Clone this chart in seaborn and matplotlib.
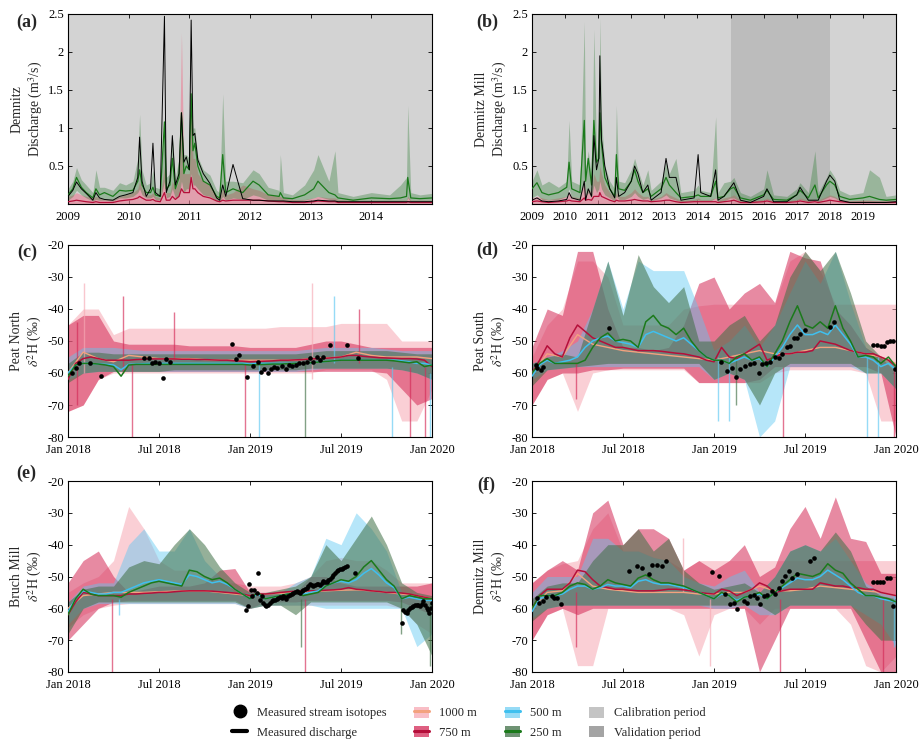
import numpy as np
import matplotlib
matplotlib.use("Agg")
import matplotlib.pyplot as plt
import seaborn as sns
from matplotlib.lines import Line2D
from matplotlib.patches import Patch

# ---------------------------------------------------------------- data ----
RES = ["1000", "750", "500", "250"]
RES_LABELS = ["1000 m", "750 m", "500 m", "250 m"]

# discharge panels (decimal years)
A_T = [2009.00, 2009.08, 2009.14, 2009.22, 2009.30, 2009.41, 2009.46, 2009.52, 2009.60, 2009.74, 2009.85, 2009.95,
       2010.07, 2010.15, 2010.18, 2010.22, 2010.29, 2010.36, 2010.40, 2010.44, 2010.52, 2010.59, 2010.62, 2010.68,
       2010.72, 2010.77, 2010.83, 2010.87, 2010.91, 2010.95, 2011.00, 2011.03, 2011.06, 2011.09, 2011.14, 2011.23,
       2011.34, 2011.45, 2011.50, 2011.55, 2011.60, 2011.72, 2011.88, 2012.05, 2012.15, 2012.30, 2012.48, 2012.50,
       2012.55, 2012.70, 2012.90, 2013.05, 2013.12, 2013.30, 2013.40, 2013.45, 2013.70, 2014.00, 2014.30, 2014.48,
       2014.58, 2014.60, 2014.65, 2014.80, 2015.00]
A_OBS = [.10, .18, .29, .20, .14, .05, .15, .08, .06, .05, .10, .12,
         .15, .35, .88, .30, .10, .20, .80, .15, .10, 2.47, .15, .30,
         .90, .25, .40, 1.20, .55, .62, .45, 2.42, .90, .93, .58, .40,
         .27, .08, .05, .25, .10, .52, .07, .05, .05, .04, .04, .04,
         .04, .03, .03, .04, .05, .04, .04, .03, .03, .03, .03, .03,
         .03, .03, .03, .03, .03]
A_Q250 = [.12, .20, .35, .22, .15, .08, .20, .12, .15, .10, .18, .17,
          .18, .30, .45, .25, .15, .15, .22, .12, .10, 1.08, .20, .25,
          .60, .20, .35, 1.20, .40, .50, .45, 1.45, .70, .80, .50, .30,
          .25, .10, .08, .65, .15, .20, .15, .30, .25, .12, .10, .15,
          .08, .07, .12, .20, .30, .15, .12, .08, .05, .08, .07, .08,
          .10, .35, .08, .07, .08]
A_Q250_HI = [.20, .30, .48, .32, .25, .15, .45, .22, .22, .18, .28, .25,
             .30, .60, 1.18, .45, .25, .28, .45, .22, .20, 1.15, .35, .40,
             .90, .35, .60, 1.25, .65, .65, .60, 1.50, 1.00, 1.00, .62, .45,
             .38, .18, .15, 1.45, .30, .30, .28, .45, .40, .22, .18, .65,
             .15, .12, .25, .45, .65, .30, .70, .15, .10, .15, .12, .25,
             .35, 1.30, .15, .12, .14]
A_Q250_LO = [.05, .10, .18, .12, .08, .04, .06, .05, .05, .04, .08, .08,
             .10, .15, .20, .12, .08, .08, .10, .06, .05, .30, .08, .10,
             .20, .08, .10, .30, .15, .20, .20, .40, .25, .25, .20, .12,
             .10, .04, .03, .10, .05, .08, .06, .12, .10, .05, .04, .05,
             .03, .03, .05, .08, .10, .06, .05, .03, .02, .03, .03, .03,
             .04, .08, .03, .03, .03]
A_Q750 = [.03, .04, .05, .04, .03, .02, .03, .02, .02, .02, .04, .05,
          .06, .08, .10, .08, .05, .05, .06, .04, .03, .15, .05, .05,
          .10, .06, .10, .20, .15, .15, .15, .35, .20, .20, .15, .10,
          .08, .04, .03, .05, .04, .05, .05, .05, .05, .04, .03, .03,
          .03, .02, .02, .03, .04, .03, .03, .02, .02, .02, .02, .02,
          .02, .03, .02, .02, .02]
A_Q750_HI = [.10, .12, .15, .12, .10, .08, .10, .08, .06, .06, .10, .12,
             .15, .20, .30, .20, .12, .12, .15, .10, .08, .50, .15, .15,
             .30, .20, .30, 2.25, .40, .40, .40, 1.45, .60, .60, .40, .30,
             .25, .10, .08, .20, .12, .15, .25, .20, .18, .12, .10, .10,
             .08, .06, .06, .08, .10, .08, .08, .06, .05, .05, .05, .05,
             .05, .10, .05, .05, .05]

B_T = [2009.00, 2009.15, 2009.30, 2009.50, 2009.80, 2010.05, 2010.12, 2010.20, 2010.45, 2010.58,
       2010.62, 2010.70, 2010.80, 2010.87, 2010.95, 2011.02, 2011.05, 2011.10, 2011.20, 2011.35,
       2011.50, 2011.55, 2011.62, 2011.80, 2012.00, 2012.10, 2012.20, 2012.35, 2012.50, 2012.60,
       2012.90, 2013.05, 2013.15, 2013.35, 2013.50, 2013.90, 2014.02, 2014.10, 2014.40, 2014.55,
       2014.62, 2014.80, 2015.00, 2015.10, 2015.30, 2015.60, 2016.00, 2016.10, 2016.30, 2016.70,
       2017.00, 2017.10, 2017.35, 2017.55, 2017.65, 2017.90, 2018.00, 2018.15, 2018.30, 2018.60,
       2019.00, 2019.20, 2019.50, 2019.70, 2020.00]
B_OBS = [.05, .08, .04, .03, .04, .06, .15, .08, .05, .30,
         .05, .20, .10, .90, .45, .60, 1.95, .85, .50, .20,
         .08, .35, .10, .15, .30, .50, .40, .15, .25, .05,
         .15, .60, .35, .35, .05, .08, .65, .15, .10, .45,
         .05, .10, .22, .28, .05, .02, .10, .20, .03, .03,
         .12, .22, .05, .05, .05, .30, .38, .30, .05, .02,
         .02, .02, .02, .02, .03]
B_Q250 = [.20, .28, .15, .12, .15, .22, .55, .20, .15, 1.10,
          .30, .60, .25, 1.10, .55, .60, 1.20, .80, .35, .20,
          .10, .65, .20, .18, .30, .45, .30, .15, .20, .10,
          .20, .35, .25, .15, .08, .10, .12, .10, .10, .30,
          .08, .10, .20, .22, .08, .05, .12, .18, .06, .05,
          .12, .18, .08, .25, .08, .25, .30, .25, .10, .06,
          .08, .10, .06, .05, .06]
B_Q250_HI = [.30, .45, .25, .30, .22, .30, 1.10, .30, .25, 2.40,
             .45, .70, .35, 2.30, .65, .90, 2.45, 1.10, .50, .30,
             .20, 1.30, .30, .28, .45, .60, .45, .25, .45, .18,
             .30, .55, .40, .60, .15, .18, .25, .18, .15, 1.15,
             .15, .28, .30, .35, .15, .10, .20, .45, .12, .10,
             .20, .28, .15, .70, .15, .35, .45, .35, .18, .12,
             .15, .45, .35, .10, .12]
B_Q250_LO = [.08, .12, .06, .05, .06, .10, .20, .08, .06, .30,
             .10, .15, .08, .25, .15, .20, .30, .20, .12, .08,
             .04, .10, .06, .06, .10, .15, .10, .06, .08, .04,
             .08, .12, .08, .05, .03, .04, .05, .04, .04, .08,
             .03, .04, .08, .08, .03, .02, .05, .06, .02, .02,
             .05, .06, .03, .05, .03, .08, .10, .08, .04, .02,
             .03, .03, .02, .02, .02]
B_Q750 = [.03, .04, .03, .02, .03, .04, .05, .04, .03, .08,
          .05, .06, .05, .10, .10, .10, .15, .10, .08, .05,
          .03, .05, .04, .04, .05, .06, .05, .04, .04, .03,
          .04, .05, .05, .03, .02, .03, .03, .03, .03, .03,
          .02, .03, .04, .05, .02, .02, .03, .04, .02, .02,
          .03, .04, .02, .03, .02, .04, .05, .04, .03, .02,
          .02, .02, .02, .02, .02]
B_Q750_HI = [.08, .10, .08, .06, .08, .10, .15, .10, .08, .30,
             .12, .20, .15, .40, .30, .30, .50, .40, .25, .15,
             .08, .15, .10, .10, .15, .20, .15, .10, .10, .06,
             .10, .15, .12, .08, .05, .06, .08, .06, .06, .08,
             .05, .08, .10, .12, .05, .04, .06, .08, .04, .04,
             .06, .08, .05, .06, .05, .10, .12, .10, .06, .04,
             .05, .05, .04, .04, .04]

A_CAL = [(2009, 2015)]
A_VAL = []
B_CAL = [(2009, 2015), (2018, 2020)]
B_VAL = [(2015, 2018)]
A_YEARS = [2009, 2010, 2011, 2012, 2013, 2014]
B_YEARS = [2009, 2010, 2011, 2012, 2013, 2014, 2015, 2016, 2017, 2018, 2019]
Q_TICKS = [0.5, 1, 1.5, 2, 2.5]
Q_TICKLABELS = ["0.5", "1", "1.5", "2", "2.5"]

# isotope panels: semi-monthly line grid (49) and monthly band grid (25), Jan 2018 - Jan 2020
ISO_TICKS = [2018.0, 2018.5, 2019.0, 2019.5, 2020.0]
ISO_TICKLABELS = ["Jan 2018", "Jul 2018", "Jan 2019", "Jul 2019", "Jan 2020"]

# ---- (c) Peat North
C_L750 = [-62, -57, -55.5, -55, -55.5, -56, -56, -56, -56, -55.8, -55.7, -55.6,
          -55.6, -55.6, -55.6, -55.7, -55.7, -55.8, -55.8, -55.9, -56, -56, -56.2, -56.3,
          -56.5, -56.4, -56.3, -56.2, -56, -56, -55.9, -55.8, -55.6, -55.5, -55.4, -55.2,
          -55, -54.5, -54.5, -54.8, -55, -55.2, -55.3, -55.4, -55.5, -55.5, -55.6, -56, -58]
C_L500 = [-60, -57.5, -57, -57, -57.2, -57.3, -57.5, -59, -57.3, -57.2, -57.1, -57,
          -57, -57, -57, -57, -57, -57, -57, -57, -57, -57, -57, -57,
          -57.2, -57, -57, -57, -57, -57, -57, -57, -56.8, -56.6, -56.4, -56.2,
          -56, -56, -56, -56, -56, -56, -56, -56, -56.2, -56.5, -57, -57, -57.5]
C_L250 = [-61, -57.5, -57, -57, -57.2, -57.5, -58, -61, -57.5, -57.3, -57.3, -57.3,
          -57.3, -57.3, -57.3, -57.3, -57.3, -57.3, -57.3, -57.3, -57.3, -57.3, -57.3, -57.3,
          -57.5, -57.4, -57.3, -57.2, -57.2, -57.1, -57, -57, -56.8, -56.6, -56.4, -56.2,
          -56, -56, -56, -56, -56, -56, -56, -56.2, -56.5, -56.8, -56.5, -58, -57.5]
C_L1000 = [-60, -53.5, -55.5, -56.5, -54.5, -55, -55.5, -55.5, -55.5, -55.8, -56, -56, -56,
           -56, -56, -56, -55.5, -55.3, -55, -53.5, -54.5, -55, -55, -55, -55.5]
C_1000_HI = [-45, -40, -40, -48, -46, -46, -46, -46, -46, -46, -46, -46, -46, -46,
             -45.5, -45.5, -45.5, -45.5, -44.5, -44.5, -44.5, -44.5, -50, -50, -50]
C_1000_LO = [-72, -70, -62, -60, -60, -60, -60, -60, -60, -60, -60, -60, -60, -60, -60, -60, -60,
             -59, -59, -59, -59, -62, -75, -75, -65]
C_750_HI = [-45, -42, -42, -50, -51, -51, -51, -51, -51.5, -51.5, -51.5, -51.5, -52, -52, -52, -52,
            -51, -50, -50, -51, -52, -52, -52, -52, -52]
C_750_LO = [-72, -70, -62, -59.5, -59.5, -59.5, -59.5, -59.5, -59.5, -59.5, -59.5, -59.5, -59.5, -59.5,
            -59.5, -59.5, -59.5, -59.5, -59.5, -59.5, -59.5, -60, -65, -70, -68]
C_500_HI = [-55, -52, -52, -52, -52.5, -53, -53, -53, -53, -53, -53, -53, -53, -53, -53, -53,
            -52.5, -52, -52, -52, -52, -52.5, -53, -53, -53]
C_500_LO = [-62, -60, -59.5, -59.5, -59.5, -59.5, -59.5, -59.5, -59.5, -59.5, -59.5, -59.5, -59.5, -59.5,
            -59.5, -59.5, -59, -58.5, -58.5, -58.5, -58.5, -58.5, -59, -60, -62]
C_250_HI = [-57, -53.5, -53.5, -54, -54, -54, -54, -54, -54, -54, -54, -54, -54, -54, -54, -54,
            -53.5, -53, -53, -53, -53, -53, -53.5, -54, -54]
C_250_LO = [-63, -60, -59.5, -59.5, -59.5, -59.5, -59.5, -59, -59, -59, -59, -59, -59, -59, -59, -59,
            -58.5, -58.5, -58.5, -58.5, -58.5, -58.5, -59, -60, -62]
C_SPK_T = [2018.05, 2018.09, 2018.30, 2018.35, 2018.58, 2018.97, 2019.05, 2019.30, 2019.34, 2019.46,
           2019.60, 2019.78, 2019.88, 2019.96, 2019.99]
C_SPK_LO = [-70, -60, -60, -80, -56, -80, -80, -80, -62, -57, -57, -80, -80, -80, -80]
C_SPK_HI = [-44, -32, -36, -57, -41, -57, -57, -57, -32, -36, -40, -58, -58, -58, -60]
C_SPK_RES = ["750", "1000", "750", "750", "750", "750", "500", "250", "1000", "500", "750", "500", "750", "750", "500"]
C_DOT_T = [2018.02, 2018.044, 2018.06, 2018.12, 2018.18, 2018.42, 2018.445, 2018.46, 2018.48, 2018.50,
           2018.52, 2018.54, 2018.56, 2018.899, 2018.921, 2018.941, 2018.982, 2019.018, 2019.042, 2019.059,
           2019.079, 2019.097, 2019.114, 2019.134, 2019.15, 2019.178, 2019.196, 2019.214, 2019.233, 2019.253,
           2019.271, 2019.293, 2019.311, 2019.33, 2019.348, 2019.366, 2019.385, 2019.403, 2019.44, 2019.531,
           2019.595]
C_DOT_V = [-59.9, -58.5, -56.8, -57.0, -60.8, -55.4, -55.4, -56.8, -56.6, -57.0,
           -61.7, -55.6, -56.7, -50.9, -55.6, -54.5, -61.4, -57.8, -56.7, -59.7,
           -58.6, -60.0, -58.9, -58.2, -58.3, -57.8, -58.9, -57.5, -57.8, -57.5,
           -57.0, -57.0, -56.5, -55.4, -56.5, -55.1, -55.9, -54.9, -51.2, -51.2,
           -55.4]

# ---- (d) Peat South
D_L750 = [-60, -56, -51.5, -54, -55, -49, -45, -47, -49, -50, -51, -52,
          -52, -52.5, -53, -53, -53, -53.2, -53.5, -53.8, -54, -54.5, -55, -56,
          -56.5, -52, -55, -55.5, -54, -52.5, -51, -56, -55, -54, -54, -53.5,
          -53.5, -53, -50, -50.5, -51, -52, -53, -53.5, -54, -54, -55, -56, -58]
D_L500 = [-61, -57.5, -56, -57, -56.5, -56, -55, -52, -50, -49, -48.5, -50,
          -50.5, -51, -52, -48, -47, -48, -49, -50, -49, -51, -53, -55,
          -56, -56, -57, -56, -55, -56, -55.5, -58, -55, -52, -48, -45,
          -48, -48, -47, -48, -45, -48, -51, -55, -55, -56, -58, -57, -59]
D_L250 = [-60, -57, -55.5, -57, -57, -57, -57, -56, -52, -49, -47.5, -50,
          -49.5, -50, -52, -44, -42, -45, -46, -48, -46, -50, -53, -55,
          -56, -56, -57, -55, -54, -56, -55, -58, -54, -50, -44, -39,
          -45, -46, -44, -46, -39, -46, -50, -55, -54.5, -55, -57, -55, -58]
D_L1000 = [-60, -54, -55, -48, -51, -52, -53, -53.5, -54, -54.5, -55, -55.5, -56,
           -55, -54, -53, -54, -54, -53, -52, -52, -53, -54, -55, -57]
D_1000_HI = [-55, -45, -40, -25, -25, -30, -45, -45, -45, -45, -40, -39, -38.5,
             -38.5, -38.5, -38.5, -38.5, -25, -22, -28, -38.5, -38.5, -38.5, -38.5, -38.5]
D_1000_LO = [-70, -62, -60, -72, -60, -59, -59, -59, -59, -59, -59, -63, -63,
             -63, -63, -63, -60, -59, -59, -59, -59, -59, -60, -75, -75]
D_750_HI = [-52, -40, -42, -22, -22, -40, -52, -52, -53, -52, -45, -32, -30,
            -40, -35, -32, -38, -22, -24, -25, -40, -45, -52, -55, -60]
D_750_LO = [-70, -62, -60, -60, -59, -59, -58.5, -58.5, -58.5, -58.5, -58.5, -63, -63,
            -63, -63, -62, -58, -58, -58, -58, -58, -58, -58, -60, -80]
D_500_HI = [-57, -55, -53, -50, -40, -25, -40, -25, -28, -28, -28, -40, -53,
            -50, -45, -52, -45, -35, -25, -32, -22, -38, -52, -56, -58]
D_500_LO = [-62, -59, -58.5, -58, -58, -58, -58, -58, -58, -58, -58, -58, -62,
            -60, -62, -80, -75, -58, -58, -58, -58, -58, -60, -60, -65]
D_250_HI = [-57, -55, -54, -55, -40, -25, -42, -23, -33, -38, -33, -50, -50,
            -45, -42, -50, -45, -30, -22, -28, -22, -35, -50, -55, -57]
D_250_LO = [-64, -59, -58.5, -58, -57.5, -57, -57, -57, -57, -57, -57, -57, -62,
            -60, -62, -70, -60, -57, -57, -57, -57, -57, -60, -60, -65]
D_SPK_T = [2018.24, 2019.02, 2019.08, 2019.12, 2019.38, 2019.84, 2019.90, 2019.99]
D_SPK_LO = [-68, -75, -75, -70, -80, -80, -80, -80]
D_SPK_HI = [-57, -55, -55, -55, -58, -55, -55, -58]
D_SPK_RES = ["750", "500", "500", "250", "750", "500", "500", "750"]
D_DOT_T = [2018.02, 2018.03, 2018.05, 2018.06, 2018.424, 2019.041, 2019.072, 2019.10, 2019.12, 2019.145,
           2019.17, 2019.196, 2019.218, 2019.246, 2019.264, 2019.288, 2019.31, 2019.337, 2019.355, 2019.374,
           2019.40, 2019.419, 2019.437, 2019.456, 2019.474, 2019.50, 2019.638, 2019.657, 2019.876, 2019.894,
           2019.916, 2019.934, 2019.95, 2019.967, 2019.985, 2019.995]
D_DOT_V = [-57.5, -58.5, -59.0, -58.0, -46.0, -56.5, -59.4, -58.5, -61.1, -58.9,
           -57.8, -57.2, -57.0, -59.9, -57.2, -57.0, -56.5, -54.9, -55.4, -54.1,
           -52.0, -51.6, -49.0, -49.2, -47.8, -46.5, -45.5, -44.0, -51.2, -51.2,
           -51.5, -51.6, -50.2, -50.0, -50.0, -58.9]

# ---- (e) Bruch Mill
E_L750 = [-62, -58, -55, -55.5, -56, -56, -56, -56, -55.5, -55.5, -55.3, -55.2,
          -55, -55, -54.8, -54.6, -54.5, -54.5, -54.5, -54.6, -54.8, -55, -55.2, -55.5,
          -56, -55.5, -55.5, -55.3, -55, -54.8, -54.6, -54.5, -54.5, -54.5, -54.3, -54.2,
          -54, -53.5, -54, -54.2, -54.5, -54.7, -55, -55, -55.2, -55.5, -56, -56.5, -57]
E_L500 = [-61, -57, -54.5, -55, -55.5, -55.5, -55, -55, -54, -53, -52, -51.5,
          -51, -51.5, -52, -52.5, -49.5, -50, -51, -52, -51.5, -52.5, -54, -55.5,
          -57, -55.5, -57, -56.5, -56, -55.5, -55, -55.5, -55, -54.5, -53, -52,
          -51.5, -52, -51, -49, -47.5, -49.5, -52, -53.5, -57, -56.5, -57, -57.5, -57.5]
E_L250 = [-62, -57, -54, -55.5, -56, -56, -56, -56.5, -55, -54, -53, -52,
          -51.5, -52, -52.5, -53, -48, -48.5, -50, -51, -50.5, -52, -54, -55.5,
          -57, -55, -57, -56.5, -56, -55.5, -55, -56, -55.5, -55, -53, -52,
          -51, -51.5, -50, -47, -45, -48, -51, -53, -57, -56, -56.5, -57, -57]
E_L1000 = [-60, -56, -55.5, -55, -55, -55, -54.8, -54.6, -54.5, -54.5, -55, -55.5, -56,
           -55.5, -55.3, -55, -54.8, -54.5, -54.3, -54.2, -54.5, -55, -55.5, -56, -57]
E_1000_HI = [-55, -52, -50, -45, -28, -35, -45, -48, -48, -50, -52, -52, -53,
             -53, -53, -52, -50, -45, -44, -45, -45, -48, -52, -52, -52]
E_1000_LO = [-66, -62, -60, -59, -58.5, -58.5, -58.5, -58.5, -58.5, -58.5, -58.5, -58.5, -60,
             -59, -59, -59, -59, -59, -59, -59, -59, -59, -60, -65, -68]
E_750_HI = [-52, -45, -42, -50, -55, -54, -53, -53, -53, -52, -48, -47.5, -55,
            -55, -55, -55, -50, -50, -52, -53, -53, -53, -53, -53, -52]
E_750_LO = [-70, -65, -60, -58, -57.5, -57.5, -57.5, -57.5, -57.5, -57.5, -57.5, -57.5, -60,
            -58, -58, -58, -57.5, -57.5, -57.5, -57.5, -57.5, -57.5, -58, -60, -62]
E_500_HI = [-58, -53, -52, -52, -40, -35, -42, -42, -35, -45, -50, -55, -55,
            -55, -55, -52, -50, -38, -40, -30, -35, -42, -55, -57, -57]
E_500_LO = [-65, -60, -58.5, -58.5, -58.5, -58.5, -58.5, -58.5, -58.5, -58.5, -58.5, -58.5, -60,
            -59, -59, -59, -59, -60, -60, -60, -60, -60, -60, -72, -68]
E_250_HI = [-58, -54, -53, -53, -47, -45, -46, -40, -35, -40, -47, -52, -55,
            -55, -54, -53, -50, -40, -45, -38, -31, -40, -52, -55, -56]
E_250_LO = [-68, -60, -58, -58, -58, -58, -58, -58, -58, -58, -58, -58, -60,
            -59, -59, -62, -58, -58, -58, -58, -58, -58, -60, -65, -75]
E_SPK_T = [2018.24, 2018.28, 2019.28, 2019.30, 2019.83, 2019.99]
E_SPK_LO = [-80, -62, -72, -80, -68, -78]
E_SPK_HI = [-57, -57, -57, -57, -56, -58]
E_SPK_RES = ["750", "500", "250", "750", "250", "250"]
E_DOT_T = [2018.98, 2018.99, 2018.996, 2019.003, 2019.01, 2019.02, 2019.037, 2019.046, 2019.055, 2019.064,
           2019.073, 2019.082, 2019.09, 2019.10, 2019.11, 2019.12, 2019.128, 2019.137, 2019.147, 2019.156,
           2019.165, 2019.174, 2019.183, 2019.19, 2019.20, 2019.21, 2019.22, 2019.23, 2019.238, 2019.247,
           2019.256, 2019.265, 2019.275, 2019.284, 2019.293, 2019.302, 2019.311, 2019.32, 2019.33, 2019.34,
           2019.348, 2019.357, 2019.366, 2019.375, 2019.385, 2019.394, 2019.403, 2019.412, 2019.421, 2019.43,
           2019.44, 2019.45, 2019.458, 2019.467, 2019.476, 2019.485, 2019.494, 2019.503, 2019.513, 2019.522,
           2019.531, 2019.577,
           2019.833, 2019.842, 2019.851, 2019.861, 2019.87, 2019.879, 2019.888, 2019.897, 2019.906, 2019.916,
           2019.925, 2019.934, 2019.943, 2019.952, 2019.961, 2019.97, 2019.978, 2019.985, 2019.992, 2019.998]
E_DOT_V = [-60.4, -59.4, -52.5, -54.1, -56.2, -54.1, -55.2, -48.8, -57.3, -56.0,
           -58.3, -59.0, -59.4, -58.8, -58.3, -57.8, -57.3, -57.5, -57.0, -56.8,
           -56.4, -56.6, -56.0, -56.5, -57.0, -56.2, -55.7, -55.4, -55.2, -55.0,
           -54.6, -55.0, -55.2, -54.6, -54.1, -53.9, -53.6, -53.0, -52.5, -52.8,
           -53.1, -52.6, -52.2, -52.5, -52.8, -52.0, -51.5, -51.6, -51.8, -51.2,
           -50.9, -50.0, -49.4, -48.8, -48.3, -48.0, -47.8, -47.5, -47.3, -47.0,
           -46.7, -48.8,
           -64.6, -60.4, -61.0, -61.5, -60.5, -59.9, -59.6, -59.4, -59.0, -58.8,
           -59.0, -59.2, -58.5, -57.8, -59.0, -59.9, -60.5, -61.5, -60.0, -58.3]

# ---- (f) Demnitz Mill
F_L750 = [-60, -56, -54, -54, -54, -52, -48, -48.5, -51, -53, -53.5, -54,
          -54, -54.3, -54.5, -54.5, -54.5, -54.3, -54, -54, -54.2, -54.5, -55, -55.3,
          -55.5, -54, -54.5, -56, -55, -54, -52, -53, -55, -54.5, -54, -54,
          -54, -54, -52, -52.5, -53, -53, -53.5, -53.5, -54, -54, -55, -55.5, -56]
F_L500 = [-61, -57, -56, -56, -55.5, -54, -53, -53, -54, -53.5, -52.5, -53,
          -53, -53.5, -51.5, -51, -52, -52.5, -52.5, -53, -53.5, -54, -55, -56,
          -57, -55.5, -56, -57.5, -56.5, -56, -55.5, -57, -55, -53.5, -52, -50.5,
          -51, -51, -50, -48, -49.5, -51, -53, -55, -56, -56, -57, -57.5, -58]
F_L250 = [-60, -56, -56, -56, -55, -53, -52, -52.5, -54, -53, -51, -52,
          -52.5, -53, -50.5, -49.5, -51, -52, -52, -52.5, -53, -54, -55, -56,
          -57, -55, -56, -58, -56.5, -56, -55, -57, -55, -53, -51, -49,
          -49.5, -50, -49, -46, -48, -49, -52, -54, -56, -56, -56.5, -57, -58]
F_L1000 = [-60, -55, -54.5, -49, -53, -54, -54.5, -55, -55, -55, -55, -55.5, -55.5,
           -55, -55, -53, -54.5, -54.5, -54, -53, -53.5, -54, -54.5, -55, -56]
F_1000_HI = [-52, -48, -46, -45, -35, -30, -42, -42, -44, -45, -48, -45, -45,
             -45, -45, -45, -45, -45, -45, -45, -45, -45, -45, -45, -45]
F_1000_LO = [-70, -62, -60, -78, -78, -60, -60, -60, -60, -60, -62, -75, -62,
             -60, -60, -65, -60, -60, -60, -60, -60, -65, -78, -80, -75]
F_750_HI = [-52, -48, -45, -48, -30, -26, -40, -35, -35, -38, -48, -45, -48,
            -45, -40, -50, -47, -35, -28, -38, -25, -38, -39, -49, -49]
F_750_LO = [-70, -62, -60, -62, -60, -60, -60, -60, -60, -60, -60, -60, -60,
            -60, -60, -80, -70, -60, -60, -60, -60, -60, -70, -80, -80]
F_500_HI = [-55, -50, -50, -50, -38, -38, -42, -42, -44, -45, -50, -52, -53,
            -50, -48, -55, -50, -42, -40, -42, -38, -45, -52, -55, -56]
F_500_LO = [-63, -60, -59, -59, -59, -59, -59, -59, -59, -59, -59, -59, -60,
            -60, -59, -62, -62, -59, -59, -59, -59, -59, -62, -65, -72]
F_250_HI = [-57, -53, -52, -52, -45, -40, -40, -35, -42, -38, -48, -52, -54,
            -53, -52, -55, -50, -42, -40, -42, -36, -42, -53, -56, -57]
F_250_LO = [-64, -60, -59, -59, -59, -59, -59, -59, -59, -59, -59, -59, -59,
            -59, -59, -59, -62, -59, -59, -59, -59, -59, -65, -70, -70]
F_SPK_T = [2018.24, 2018.83, 2018.98, 2019.36, 2019.93, 2019.99]
F_SPK_LO = [-72, -55, -78, -80, -80, -72]
F_SPK_HI = [-55, -38, -57, -57, -57, -56]
F_SPK_RES = ["750", "1000", "1000", "750", "750", "500"]
F_DOT_T = [2018.027, 2018.04, 2018.058, 2018.077, 2018.108, 2018.122, 2018.14, 2018.159, 2018.533, 2018.579,
           2018.606, 2018.643, 2018.661, 2018.689, 2018.716, 2018.734, 2018.99, 2019.026, 2019.063, 2019.09,
           2019.109, 2019.127, 2019.163, 2019.18, 2019.20, 2019.218, 2019.237, 2019.255, 2019.273, 2019.29,
           2019.318, 2019.336, 2019.355, 2019.373, 2019.39, 2019.41, 2019.428, 2019.456, 2019.529, 2019.547,
           2019.876, 2019.894, 2019.912, 2019.93, 2019.95, 2019.967, 2019.985]
F_DOT_V = [-56.9, -58.4, -57.7, -56.3, -56.1, -56.6, -56.9, -58.7, -48.3, -46.7,
           -47.2, -49.3, -46.5, -46.5, -46.7, -45.1, -48.6, -49.8, -55.6, -58.5,
           -58.2, -60.3, -57.7, -58.2, -56.1, -55.8, -56.6, -58.7, -56.1, -55.8,
           -54.6, -55.6, -53.7, -51.4, -49.8, -48.3, -50.4, -49.3, -45.1, -44.1,
           -51.6, -51.6, -51.7, -51.7, -50.4, -50.4, -59.3]

# ------------------------------------------------------------- styling ----
sns.set_theme(style="ticks")
plt.rcParams["font.family"] = ["Liberation Serif", "DejaVu Serif"]
plt.rcParams["mathtext.fontset"] = "stix"
plt.rcParams["axes.unicode_minus"] = False

BAND_COL = {"1000": "#f7a9b4", "750": "#d42a57", "500": "#5ec8f2", "250": "#3f6f45"}
BAND_ALPHA = {"1000": 0.55, "750": 0.55, "500": 0.45, "250": 0.55}
LINE_COL = {"1000": "#f3a27e", "750": "#b50f3a", "500": "#3fc0ef", "250": "#1b7a1b"}
CAL_COL = "#d3d3d3"
VAL_COL = "#bcbcbc"

SEMI = 2018 + np.arange(49) / 24.0
MONTH = 2018 + np.arange(25) / 12.0

FIG_W, FIG_H = 919, 746
fig = plt.figure(figsize=(FIG_W / 100, FIG_H / 100), dpi=100)


def add_ax(left_px, top_px, w_px, h_px):
    return fig.add_axes([left_px / FIG_W, 1 - (top_px + h_px) / FIG_H, w_px / FIG_W, h_px / FIG_H])


def style_ax(ax):
    ax.tick_params(direction="in", top=True, right=True, length=3, width=0.6,
                   labelsize=9, pad=3, colors="black")
    ax.tick_params(axis="x", pad=5)
    for s in ax.spines.values():
        s.set_linewidth(0.8)
        s.set_color("black")
    ax.set_xlabel("")


def q_panel(ax, T, obs, q250, lo250, hi250, q750, hi750, cal, val, years, ylabel):
    for a, b in cal:
        ax.axvspan(a, b, color=CAL_COL, lw=0, zorder=0)
    for a, b in val:
        ax.axvspan(a, b, color=VAL_COL, lw=0, zorder=0)
    ax.fill_between(T, 0, hi750, color=BAND_COL["1000"], alpha=0.5, lw=0, zorder=1)
    ax.fill_between(T, 0, hi750, color=BAND_COL["750"], alpha=0.2, lw=0, zorder=1)
    ax.fill_between(T, lo250, hi250, color="#2f7d34", alpha=0.35, lw=0, zorder=2)
    sns.lineplot(x=T, y=q750, ax=ax, color=LINE_COL["750"], lw=0.9, zorder=3)
    sns.lineplot(x=T, y=q250, ax=ax, color=LINE_COL["250"], lw=0.9, zorder=4)
    sns.lineplot(x=T, y=obs, ax=ax, color="black", lw=0.7, zorder=5)
    ax.set_xlim(years[0], years[-1] + 1)
    ax.set_ylim(0, 2.5)
    ax.set_xticks(years)
    ax.set_xticklabels([str(y) for y in years])
    ax.set_yticks(Q_TICKS)
    ax.set_yticklabels(Q_TICKLABELS)
    style_ax(ax)
    ax.set_ylabel(ylabel, fontsize=10, labelpad=2, linespacing=1.25)


def iso_panel(ax, bands, lines, line1000, spikes, dots, ylabel):
    for r in RES:
        lo, hi = bands[r]
        ax.fill_between(MONTH, lo, hi, color=BAND_COL[r], alpha=BAND_ALPHA[r], lw=0, zorder=1)
    for t, lo, hi, r in zip(*spikes):
        ax.vlines(t, lo, hi, color=BAND_COL[r], alpha=0.65, lw=1.0, zorder=1)
    sns.lineplot(x=MONTH, y=line1000, ax=ax, color=LINE_COL["1000"], lw=1.0, zorder=3)
    for r in ["750", "500", "250"]:
        sns.lineplot(x=SEMI, y=lines[r], ax=ax, color=LINE_COL[r], lw=1.1, zorder=4)
    sns.scatterplot(x=dots[0], y=dots[1], ax=ax, color="black", s=11, linewidth=0, zorder=6)
    ax.set_xlim(2018, 2020)
    ax.set_ylim(-80, -20)
    ax.set_xticks(ISO_TICKS)
    ax.set_xticklabels(ISO_TICKLABELS)
    ax.set_yticks([-80, -70, -60, -50, -40, -30, -20])
    style_ax(ax)
    ax.set_ylabel(ylabel, fontsize=10, labelpad=2, linespacing=1.25)


W = 364
ax_a = add_ax(68, 14, W, 190)
ax_b = add_ax(532, 14, W, 190)
ax_c = add_ax(68, 245, W, 192)
ax_d = add_ax(532, 245, W, 192)
ax_e = add_ax(68, 481, W, 191)
ax_f = add_ax(532, 481, W, 191)

q_panel(ax_a, A_T, A_OBS, A_Q250, A_Q250_LO, A_Q250_HI, A_Q750, A_Q750_HI, A_CAL, A_VAL, A_YEARS,
        "Demnitz\nDischarge (m$^3$/s)")
q_panel(ax_b, B_T, B_OBS, B_Q250, B_Q250_LO, B_Q250_HI, B_Q750, B_Q750_HI, B_CAL, B_VAL, B_YEARS,
        "Demnitz Mill\nDischarge (m$^3$/s)")

iso_panel(ax_c,
          {"1000": (C_1000_LO, C_1000_HI), "750": (C_750_LO, C_750_HI),
           "500": (C_500_LO, C_500_HI), "250": (C_250_LO, C_250_HI)},
          {"750": C_L750, "500": C_L500, "250": C_L250}, C_L1000,
          (C_SPK_T, C_SPK_LO, C_SPK_HI, C_SPK_RES), (C_DOT_T, C_DOT_V),
          "Peat North\n$\\delta^2$H (‰)")
iso_panel(ax_d,
          {"1000": (D_1000_LO, D_1000_HI), "750": (D_750_LO, D_750_HI),
           "500": (D_500_LO, D_500_HI), "250": (D_250_LO, D_250_HI)},
          {"750": D_L750, "500": D_L500, "250": D_L250}, D_L1000,
          (D_SPK_T, D_SPK_LO, D_SPK_HI, D_SPK_RES), (D_DOT_T, D_DOT_V),
          "Peat South\n$\\delta^2$H (‰)")
iso_panel(ax_e,
          {"1000": (E_1000_LO, E_1000_HI), "750": (E_750_LO, E_750_HI),
           "500": (E_500_LO, E_500_HI), "250": (E_250_LO, E_250_HI)},
          {"750": E_L750, "500": E_L500, "250": E_L250}, E_L1000,
          (E_SPK_T, E_SPK_LO, E_SPK_HI, E_SPK_RES), (E_DOT_T, E_DOT_V),
          "Bruch Mill\n$\\delta^2$H (‰)")
iso_panel(ax_f,
          {"1000": (F_1000_LO, F_1000_HI), "750": (F_750_LO, F_750_HI),
           "500": (F_500_LO, F_500_HI), "250": (F_250_LO, F_250_HI)},
          {"750": F_L750, "500": F_L500, "250": F_L250}, F_L1000,
          (F_SPK_T, F_SPK_LO, F_SPK_HI, F_SPK_RES), (F_DOT_T, F_DOT_V),
          "Demnitz Mill\n$\\delta^2$H (‰)")

# panel letters
for lab, (px, py) in zip(["(a)", "(b)", "(c)", "(d)", "(e)", "(f)"],
                         [(27, 22), (487, 22), (27, 252), (487, 250), (26, 473), (486, 485)]):
    fig.text(px / FIG_W, 1 - py / FIG_H, lab, fontsize=13, fontweight="bold",
             ha="center", va="center")

# legend
handles = [
    Line2D([], [], marker="o", color="black", ls="none", markersize=9),
    Line2D([], [], color="black", lw=3),
]
labels = ["Measured stream isotopes", "Measured discharge"]
for r, lab in zip(RES, RES_LABELS):
    handles.append((Patch(facecolor=BAND_COL[r], alpha=min(BAND_ALPHA[r] + 0.2, 1.0), lw=0),
                    Line2D([], [], color=LINE_COL[r], lw=2.2)))
    labels.append(lab)
handles += [Patch(facecolor="#c4c4c4", lw=0), Patch(facecolor="#a4a4a4", lw=0)]
labels += ["Calibration period", "Validation period"]
fig.legend(handles, labels, ncol=4, loc="center", bbox_to_anchor=(0.51, 0.031), frameon=False,
           fontsize=9, handlelength=1.2, handleheight=1.0, handletextpad=0.8,
           columnspacing=2.2, labelspacing=0.55)

fig.savefig("out.png", dpi=100)
